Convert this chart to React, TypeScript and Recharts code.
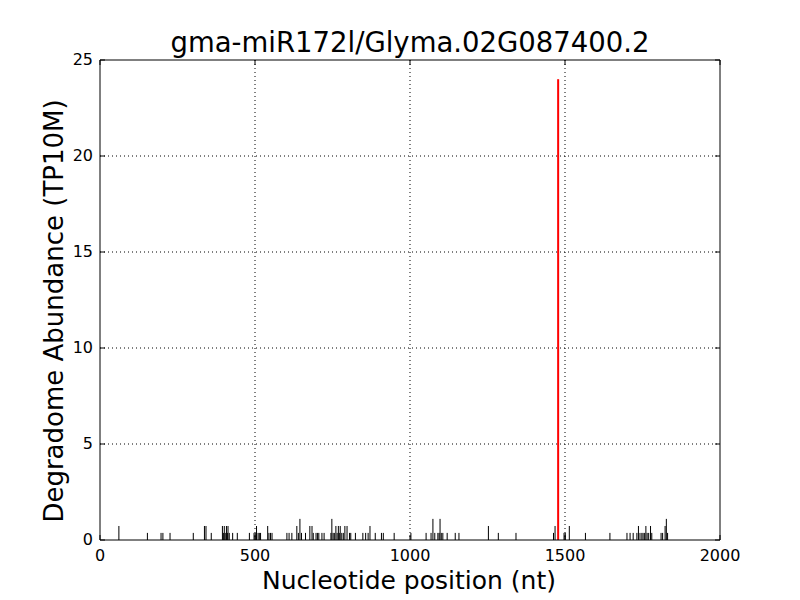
import React from "react";
import { BarChart, Bar, XAxis, YAxis, CartesianGrid, ReferenceLine } from "recharts";

// Black (non-target) degradome peaks: position (nt) and abundance (TP10M)
const blackPositions = [
  61, 153, 197, 203, 226, 301, 337, 342, 359, 395, 398, 401, 404, 408, 411, 413, 417, 428, 443, 482,
  497, 501, 505, 510, 514, 518, 541, 545, 550, 555, 603, 610, 619, 635, 640, 645, 650, 663, 677, 684,
  688, 697, 702, 706, 716, 723, 745, 748, 752, 756, 761, 765, 769, 772, 775, 780, 785, 790, 797, 805,
  809, 824, 848, 857, 865, 871, 888, 908, 914, 949, 1003, 1052, 1068, 1074, 1080, 1090, 1094, 1097, 1101, 1106,
  1120, 1146, 1158, 1253, 1285, 1342, 1463, 1468, 1497, 1501, 1514, 1566, 1645, 1700, 1710, 1720, 1732, 1737, 1742, 1748,
  1752, 1757, 1761, 1765, 1770, 1776, 1780, 1810, 1815, 1823, 1827, 1831,
];
const blackValues = [
  0.73, 0.37, 0.37, 0.37, 0.37, 0.37, 0.73, 0.73, 0.37, 0.73, 0.37, 0.73, 0.37, 0.73, 0.37, 0.73, 0.37, 0.37, 0.37, 0.37,
  0.37, 0.37, 0.73, 0.37, 0.37, 0.37, 0.73, 0.37, 0.37, 0.37, 0.37, 0.37, 0.37, 0.73, 0.37, 1.1, 0.37, 0.37, 0.73, 0.73,
  0.37, 0.37, 0.37, 0.37, 0.37, 0.37, 0.37, 1.1, 0.37, 0.37, 0.73, 0.37, 0.73, 0.37, 0.73, 0.37, 0.37, 0.73, 0.73, 0.37,
  0.37, 0.37, 0.37, 0.37, 0.37, 0.73, 0.37, 0.37, 0.37, 0.37, 0.37, 0.37, 0.37, 1.1, 0.37, 0.37, 0.37, 1.1, 0.37, 0.37,
  0.37, 0.37, 0.37, 0.73, 0.37, 0.37, 0.37, 0.73, 0.37, 0.37, 0.73, 0.37, 0.37, 0.37, 0.37, 0.37, 0.37, 0.73, 0.37, 0.37,
  0.37, 0.37, 0.73, 0.37, 0.37, 0.73, 0.37, 0.37, 0.37, 0.73, 1.1, 0.37,
];
// Red (miRNA target site) peak
const redPositions = [1478];
const redValues = [24];

const xTicks = [0, 500, 1000, 1500, 2000];
const yTicks = [0, 5, 10, 15, 20, 25];
const xMax = 2000;
const yMax = 25;

const titleText = "gma-miR172l/Glyma.02G087400.2";
const xLabel = "Nucleotide position (nt)";
const yLabel = "Degradome Abundance (TP10M)";

type Row = { pos: number; value: number; series: "black" | "red" };
const data: Row[] = [
  ...blackPositions.map((p, i) => ({ pos: p, value: blackValues[i], series: "black" as const })),
  ...redPositions.map((p, i) => ({ pos: p, value: redValues[i], series: "red" as const })),
];

const FONT = "DejaVu Sans, sans-serif";

const LineShape = (props: any) => {
  const { x, y, width, height, payload } = props;
  if (!height || height <= 0) return null;
  const red = payload && payload.series === "red";
  const w = red ? 2 : 1;
  const cx = x + width / 2;
  return <rect x={cx - w / 2} y={y} width={w} height={height} fill={red ? "#ff0000" : "#000000"} />;
};

const BottomTick = (props: any) => {
  const { x, y, payload } = props;
  return (
    <g>
      <line x1={x} x2={x} y1={y} y2={y - 5} stroke="#000" strokeWidth={1} />
      <text x={x} y={y + 21} textAnchor="middle" fontSize={16} fontFamily={FONT} fill="#000">
        {payload.value}
      </text>
    </g>
  );
};
const TopTick = (props: any) => {
  const { x, y } = props;
  return <line x1={x} x2={x} y1={y} y2={y + 5} stroke="#000" strokeWidth={1} />;
};
const LeftTick = (props: any) => {
  const { x, y, payload } = props;
  return (
    <g>
      <line x1={x} x2={x + 5} y1={y} y2={y} stroke="#000" strokeWidth={1} />
      <text x={x - 7} y={y + 5} textAnchor="end" fontSize={16} fontFamily={FONT} fill="#000">
        {payload.value}
      </text>
    </g>
  );
};
const RightTick = (props: any) => {
  const { x, y } = props;
  return <line x1={x} x2={x - 5} y1={y} y2={y} stroke="#000" strokeWidth={1} />;
};

export default function App() {
  return (
    <div style={{ position: "absolute", left: 0, top: 0, width: 800, height: 600, background: "#fff" }}>
      <BarChart
        width={800}
        height={600}
        data={data}
        margin={{ top: 59, right: 79, bottom: 0, left: 0 }}
        barSize={2}
      >
        <CartesianGrid
          stroke="#000"
          strokeDasharray="1 3"
          horizontalValues={yTicks.filter((t) => t > 0 && t < yMax)}
          verticalValues={xTicks.filter((t) => t > 0 && t < xMax)}
          xAxisId="bottom"
          yAxisId="left"
        />
        <XAxis
          xAxisId="bottom"
          dataKey="pos"
          type="number"
          domain={[0, xMax]}
          ticks={xTicks}
          tickSize={0}
          tickMargin={0}
          height={60}
          axisLine={{ stroke: "#000", strokeWidth: 1 }}
          tickLine={false}
          tick={<BottomTick />}
          interval={0}
          allowDataOverflow
        />
        <XAxis
          xAxisId="top"
          orientation="top"
          dataKey="pos"
          type="number"
          domain={[0, xMax]}
          ticks={xTicks}
          tickSize={0}
          tickMargin={0}
          height={1}
          axisLine={false}
          tickLine={false}
          tick={<TopTick />}
          interval={0}
          allowDataOverflow
        />
        <YAxis
          yAxisId="left"
          type="number"
          domain={[0, yMax]}
          ticks={yTicks}
          width={100}
          tickSize={0}
          tickMargin={0}
          axisLine={{ stroke: "#000", strokeWidth: 1 }}
          tickLine={false}
          tick={<LeftTick />}
          interval={0}
          allowDataOverflow
        />
        <YAxis
          yAxisId="right"
          orientation="right"
          type="number"
          domain={[0, yMax]}
          ticks={yTicks}
          width={1}
          tickSize={0}
          tickMargin={0}
          axisLine={false}
          tickLine={false}
          tick={<RightTick />}
          interval={0}
          allowDataOverflow
        />
        <Bar
          dataKey="value"
          xAxisId="bottom"
          yAxisId="left"
          isAnimationActive={false}
          shape={<LineShape />}
        />
        <ReferenceLine xAxisId="bottom" yAxisId="left" y={yMax} stroke="#000" strokeWidth={1} ifOverflow="visible" />
        <ReferenceLine xAxisId="bottom" yAxisId="left" x={xMax} stroke="#000" strokeWidth={1} ifOverflow="visible" />
      </BarChart>
      <svg
        width={800}
        height={600}
        style={{ position: "absolute", left: 0, top: 0, pointerEvents: "none" }}
      >
        <text x={410} y={52} textAnchor="middle" fontSize={27.5} fontFamily={FONT} fill="#000">
          {titleText}
        </text>
        <text x={409} y={589} textAnchor="middle" fontSize={25} fontFamily={FONT} fill="#000">
          {xLabel}
        </text>
        <text
          x={0}
          y={0}
          transform="translate(63,311) rotate(-90)"
          textAnchor="middle"
          fontSize={26}
          fontFamily={FONT}
          fill="#000"
        >
          {yLabel}
        </text>
      </svg>
    </div>
  );
}
